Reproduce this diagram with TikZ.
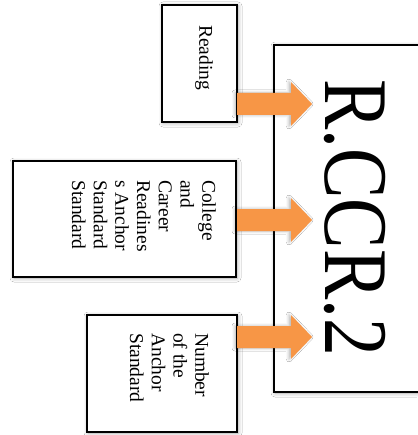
\documentclass[tikz,border=0pt]{standalone}
\usepackage{fontspec}
\setmainfont{Liberation Serif}
\usetikzlibrary{shadows.blur}
\definecolor{accentorange}{HTML}{F79646}
\begin{document}
\begin{tikzpicture}[x=1pt,y=-1pt,
  box/.style={draw=black, line width=2.6pt, fill=white, inner sep=0pt, outer sep=0pt,
    blur shadow={shadow xshift=1pt, shadow yshift=-1pt, shadow blur radius=4pt, shadow opacity=35}},
  boxlabel/.style={rotate=-90, anchor=north west, inner sep=0pt, align=left,
    font=\fontsize{19.5}{21.7}\selectfont},
  blockarrow/.style={fill=accentorange,
    blur shadow={shadow xshift=-2pt, shadow yshift=0pt, shadow blur radius=3pt, shadow opacity=30}}]
\useasboundingbox (0,0) rectangle (417,435);
\fill[white] (0,0) rectangle (417,435);

% boxes
\node[box, minimum width=75pt, minimum height=117pt] (reading) at (199.5,63.5) {};
\node[box, minimum width=223pt, minimum height=116pt] (college) at (124.5,219) {};
\node[box, minimum width=150pt, minimum height=117pt] (number) at (162,373.5) {};
\node[box, minimum width=150pt, minimum height=347pt] (code) at (349,218.5) {};

% texts
\node[boxlabel] (t1) at (213,25) {Reading};
\node[boxlabel] (t2) at (216,180) {College\\and\\Career\\Readines\\s Anchor\\Standard\\Standard};
\node[boxlabel] (t3) at (209,333) {Number\\of the\\Anchor\\Standard};
\node[rotate=-90, anchor=base west, inner sep=0pt, font=\fontsize{91}{91}\selectfont]
  (codetext) at (325,79) {\scalebox{0.83}[1]{R.CCR.2}};

% block arrows
\foreach \c in {104,220,337}{
  \fill[blockarrow] (237,\c-11) -- (291,\c-11) -- (291,\c-22) -- (312,\c)
    -- (291,\c+22) -- (291,\c+11) -- (237,\c+11) -- cycle;
}
\end{tikzpicture}
\end{document}
